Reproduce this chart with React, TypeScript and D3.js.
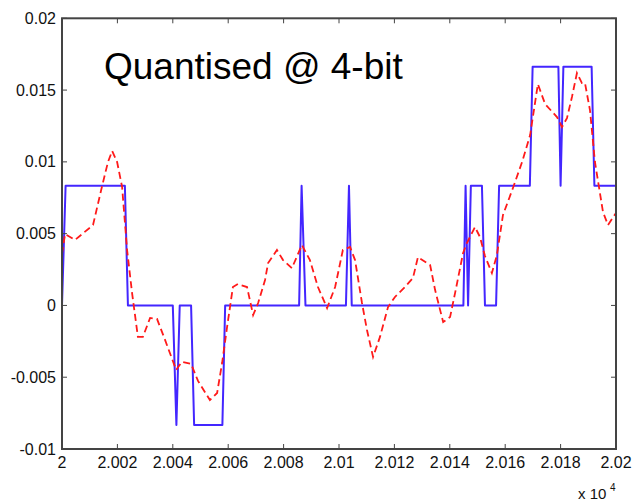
import React from "react";
import * as d3 from "d3";

// ---- Data ----
const xTicks = [20000, 20020, 20040, 20060, 20080, 20100, 20120, 20140, 20160, 20180, 20200];
const xTickLabels = ["2", "2.002", "2.004", "2.006", "2.008", "2.01", "2.012", "2.014", "2.016", "2.018", "2.02"];
const yTicks = [-0.01, -0.005, 0, 0.005, 0.01, 0.015, 0.02];
const yTickLabels = ["-0.01", "-0.005", "0", "0.005", "0.01", "0.015", "0.02"];

// Original signal (red dashed)
const origX = [
  0, 1.1, 4.7, 11.2, 14.4, 16.6, 18.1, 19.9, 21.7, 23.5, 25.3, 27.4, 29.2, 31.8, 34.3, 37.2,
  41.2, 43.3, 46.6, 49.1, 53.4, 56.0, 57.8, 59.6, 61.7, 63.5, 66.8, 69.0, 70.8, 73.3, 74.4,
  77.6, 79.8, 83.0, 86.6, 89.5, 92.4, 95.7, 98.6, 101.4, 104.0, 105.8, 108.3, 110.1, 112.3,
  114.8, 117.7, 120.2, 123.8, 126.7, 128.5, 132.9, 134.7, 137.6, 140.1, 141.9, 144.8, 146.2,
  149.1, 150.9, 152.7, 155.2, 157.0, 159.2, 162.8, 166.1, 169.0, 171.8, 174.4, 178.7, 180.5,
  182.3, 184.1, 185.9, 187.7, 188.8, 190.6, 192.4, 195.3, 197.1, 200,
];
const origY = [
  0.00358, 0.00497, 0.00456, 0.0056, 0.00825, 0.00999, 0.01076, 0.00999, 0.00825, 0.00386,
  0.00086, -0.00219, -0.00219, -0.00087, -0.00094, -0.0024, -0.00449, -0.00393, -0.00407,
  -0.00526, -0.00659, -0.0061, -0.00401, -0.0015, 0.00128, 0.00149, 0.00128, -0.00067, 0.00017,
  0.00177, 0.00295, 0.00386, 0.00316, 0.0026, 0.00421, 0.00316, 0.00128, -0.00018, 0.00128,
  0.00386, 0.00407, 0.00316, 0.00017, -0.00171, -0.00359, -0.00219, -0.00011, 0.00059, 0.00128,
  0.00191, 0.00337, 0.00281, 0.00107, -0.00116, -0.00081, 0.00086, 0.00365, 0.00435, 0.00546,
  0.00476, 0.00344, 0.00226, 0.00351, 0.0063, 0.00818, 0.00999, 0.01187, 0.01542, 0.01403,
  0.01312, 0.01243, 0.01305, 0.01452, 0.01619, 0.01549, 0.01549, 0.01361, 0.00999, 0.00651,
  0.0056, 0.00644,
];

// Quantised signal (blue solid) — vertices
const quantX = [
  0, 1.3, 22.7, 23.8, 40.0, 41.3, 42.5, 46.6, 47.7, 57.9, 58.9, 85.6, 86.5, 87.9, 102.5, 103.6,
  104.6, 144.9, 145.7, 146.6, 147.6, 151.6, 152.7, 156.7, 157.8, 168.9, 169.9, 179.2, 180.0,
  181.0, 191.2, 192.2, 200,
];
const quantY = [
  0, 0.00833, 0.00833, 0, 0, -0.00833, 0, 0, -0.00833, -0.00833, 0, 0, 0.00833, 0, 0, 0.00833,
  0, 0, 0.00833, 0, 0.00833, 0.00833, 0, 0, 0.00833, 0.00833, 0.01662, 0.01662, 0.00833,
  0.01662, 0.01662, 0.00833, 0.00833,
];

const W = 634;
const H = 501;
const left = 62;
const right = 616;
const top = 18.3;
const bottom = 449;

export default function App() {
  const x = d3.scaleLinear().domain([20000, 20200]).range([left, right]);
  const y = d3.scaleLinear().domain([-0.01, 0.02]).range([bottom, top]);

  const line = d3
    .line<[number, number]>()
    .x((d) => x(d[0]))
    .y((d) => y(d[1]));

  const origPts: [number, number][] = origX.map((v, i) => [20000 + v, origY[i]]);
  const quantPts: [number, number][] = quantX.map((v, i) => [20000 + v, quantY[i]]);

  const font = "'Liberation Sans', Arial, sans-serif";
  const axisColor = "#444";
  const tickLen = 5;

  return (
    <svg
      width={W}
      height={H}
      style={{ position: "absolute", left: 0, top: 0, background: "#fff" }}
      fontFamily={font}
    >
      <defs>
        <clipPath id="plotclip">
          <rect x={left} y={top} width={right - left} height={bottom - top} />
        </clipPath>
      </defs>
      <rect x={0} y={0} width={W} height={H} fill="#fff" />

      <g clipPath="url(#plotclip)">
        <path
          d={line(quantPts) || ""}
          fill="none"
          stroke="#4326ff"
          strokeWidth={2}
          strokeLinejoin="round"
        />
        <path
          d={line(origPts) || ""}
          fill="none"
          stroke="#ff1a1a"
          strokeWidth={1.8}
          strokeDasharray="7,4"
        />
      </g>

      {/* box */}
      <rect
        x={left}
        y={top}
        width={right - left}
        height={bottom - top}
        fill="none"
        stroke={axisColor}
        strokeWidth={2}
      />

      {/* x ticks */}
      {xTicks.map((t, i) => (
        <g key={"xt" + i}>
          <line x1={x(t)} x2={x(t)} y1={bottom} y2={bottom - tickLen} stroke={axisColor} strokeWidth={1} />
          <line x1={x(t)} x2={x(t)} y1={top} y2={top + tickLen} stroke={axisColor} strokeWidth={1} />
          <text x={x(t)} y={468} fontSize={16} textAnchor="middle" fill="#111">
            {xTickLabels[i]}
          </text>
        </g>
      ))}

      {/* y ticks */}
      {yTicks.map((t, i) => (
        <g key={"yt" + i}>
          <line x1={left} x2={left + tickLen} y1={y(t)} y2={y(t)} stroke={axisColor} strokeWidth={1} />
          <line x1={right} x2={right - tickLen} y1={y(t)} y2={y(t)} stroke={axisColor} strokeWidth={1} />
          <text x={56} y={y(t) + 5.5} fontSize={16} textAnchor="end" fill="#111">
            {yTickLabels[i]}
          </text>
        </g>
      ))}

      {/* exponent */}
      <text x={578} y={499} fontSize={15} fill="#111">
        x 10
      </text>
      <text x={610} y={491} fontSize={10} fill="#111">
        4
      </text>

      {/* title inside */}
      <text x={104} y={79} fontSize={37} fill="#000">
        Quantised @ 4-bit
      </text>
    </svg>
  );
}
